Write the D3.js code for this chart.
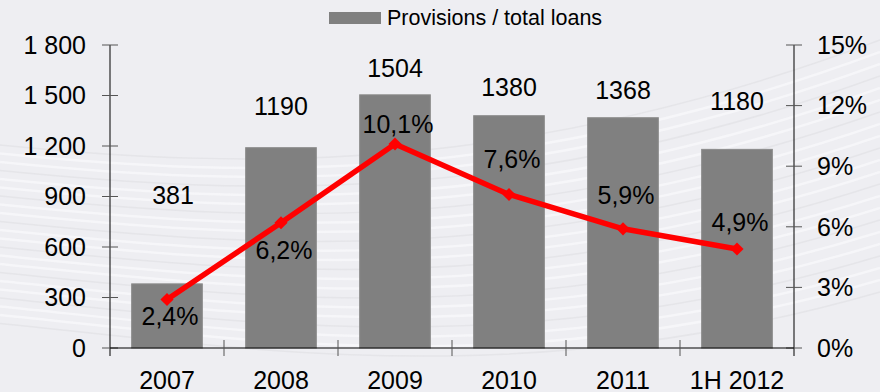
<!DOCTYPE html>
<html>
<head>
<meta charset="utf-8">
<script src="https://cdn.jsdelivr.net/npm/d3@7"></script>
<style>
  body { margin: 0; background: #eeeef2; }
  svg { display: block; font-family: "Liberation Sans", Arial, sans-serif; }
</style>
</head>
<body>
<svg id="chart" width="880" height="392"></svg>
<script>
// data
var categories = ["2007", "2008", "2009", "2010", "2011", "1H 2012"];
var provisions = [381, 1190, 1504, 1380, 1368, 1180];
var ratio = [2.4, 6.2, 10.1, 7.6, 5.9, 4.9];
var leftTicks = [0, 300, 600, 900, 1200, 1500, 1800];
var rightTicks = [0, 3, 6, 9, 12, 15];
var legendLabel = "Provisions / total loans";

// label placement (px from bar top / marker)
var barLabelOffset = [-89, -41, -27, -28, -27, -48];
var pctLabelOffset = [17, 27, -20, -35, -34, -27];

var width = 880, height = 392;
var plotLeft = 110, plotRight = 794, plotTop = 45, plotBottom = 348;

var svg = d3.select("#chart");

/// background swoosh ///
var bg = svg.append("g");
bg.append("rect").attr("width", width).attr("height", height).attr("fill", "#eeeef2");
for (var i = 0; i < 22; i++) {
  var y0 = 145 + i * 8.5, y1 = 40 + i * 12;
  bg.append("path")
    .attr("d", "M0," + y0 + " C250," + (y0 + 25) + " 520," + (y0 + 30 + i * 2) + " 880," + y1)
    .attr("fill", "none")
    .attr("stroke", i % 3 == 0 ? "#e2e2e6" : "#f8f8fa")
    .attr("stroke-width", i % 3 == 0 ? 1.5 : 2.5)
    .attr("opacity", 0.8);
}

var x = d3.scaleBand().domain(categories).range([plotLeft, plotRight]).paddingInner(0.38).paddingOuter(0.19);
var xb = d3.scaleBand().domain(categories).range([plotLeft, plotRight]);
var y = d3.scaleLinear().domain([0, 1800]).range([plotBottom, plotTop]);
var y2 = d3.scaleLinear().domain([0, 15]).range([plotBottom, plotTop]);
var fmt = d3.format(",");

/// bars ///
svg.append("g").selectAll("rect")
  .data(provisions)
  .enter().append("rect")
    .attr("x", function(d, i) { return x(categories[i]); })
    .attr("y", function(d) { return y(d); })
    .attr("width", x.bandwidth())
    .attr("height", function(d) { return plotBottom - y(d); })
    .attr("fill", "#808080")
    .attr("stroke", "#8c8c8c")
    .attr("stroke-width", 1);

/// axes ///
var axisG = svg.append("g");
// left
axisG.append("line").attr("x1", plotLeft).attr("x2", plotLeft).attr("y1", plotTop).attr("y2", plotBottom + 8).attr("stroke", "#000");
axisG.selectAll(".lt").data(leftTicks).enter().append("line")
  .attr("x1", plotLeft - 8).attr("x2", plotLeft + 8)
  .attr("y1", function(d) { return y(d); }).attr("y2", function(d) { return y(d); })
  .attr("stroke", "#555");
axisG.selectAll(".ll").data(leftTicks).enter().append("text")
  .attr("x", 86).attr("y", function(d) { return y(d); })
  .attr("dy", "0.35em").attr("text-anchor", "end")
  .attr("font-size", 25).attr("fill", "#000")
  .text(function(d) { return fmt(d).replace(/,/g, " "); });
// right
axisG.append("line").attr("x1", plotRight).attr("x2", plotRight).attr("y1", plotTop).attr("y2", plotBottom + 8).attr("stroke", "#000");
axisG.selectAll(".rt").data(rightTicks).enter().append("line")
  .attr("x1", plotRight - 8).attr("x2", plotRight + 8)
  .attr("y1", function(d) { return y2(d); }).attr("y2", function(d) { return y2(d); })
  .attr("stroke", "#555");
axisG.selectAll(".rl").data(rightTicks).enter().append("text")
  .attr("x", 817).attr("y", function(d) { return y2(d); })
  .attr("dy", "0.35em").attr("text-anchor", "start")
  .attr("font-size", 25).attr("fill", "#000")
  .text(function(d) { return d + "%"; });
// bottom
axisG.append("line").attr("x1", plotLeft).attr("x2", plotRight).attr("y1", plotBottom).attr("y2", plotBottom).attr("stroke", "#000");
axisG.selectAll(".bt").data(categories.slice(1)).enter().append("line")
  .attr("x1", function(d) { return xb(d); }).attr("x2", function(d) { return xb(d); })
  .attr("y1", plotBottom - 8).attr("y2", plotBottom + 8)
  .attr("stroke", "#555");
axisG.selectAll(".bl").data(categories).enter().append("text")
  .attr("x", function(d) { return xb(d) + xb.bandwidth() / 2; })
  .attr("y", 389)
  .attr("text-anchor", "middle")
  .attr("font-size", 25).attr("fill", "#000")
  .text(function(d) { return d; });

/// line ///
var line = d3.line()
  .x(function(d, i) { return xb(categories[i]) + xb.bandwidth() / 2; })
  .y(function(d) { return y2(d); });

svg.append("path")
  .datum(ratio)
  .attr("d", line)
  .attr("fill", "none")
  .attr("stroke", "#ff0000")
  .attr("stroke-width", 5.5)
  .attr("stroke-linejoin", "round");

svg.append("g").selectAll("path")
  .data(ratio)
  .enter().append("path")
    .attr("d", d3.symbol().type(d3.symbolDiamond2).size(110))
    .attr("transform", function(d, i) {
      return "translate(" + (xb(categories[i]) + xb.bandwidth() / 2) + "," + y2(d) + ")";
    })
    .attr("fill", "#ff0000");

/// labels ///
svg.append("g").selectAll("text")
  .data(provisions)
  .enter().append("text")
    .attr("x", function(d, i) { return xb(categories[i]) + xb.bandwidth() / 2 + (i == 0 ? 6 : 0); })
    .attr("y", function(d, i) { return y(d) + barLabelOffset[i]; })
    .attr("dy", "0.35em")
    .attr("text-anchor", "middle")
    .attr("font-size", 25).attr("fill", "#000")
    .text(function(d) { return d; });

svg.append("g").selectAll("text")
  .data(ratio)
  .enter().append("text")
    .attr("x", function(d, i) { return xb(categories[i]) + xb.bandwidth() / 2 + 3; })
    .attr("y", function(d, i) { return y2(d) + pctLabelOffset[i]; })
    .attr("dy", "0.35em")
    .attr("text-anchor", "middle")
    .attr("font-size", 25).attr("fill", "#000")
    .text(function(d) { return d.toFixed(1).replace(".", ",") + "%"; });

/// legend ///
var legend = svg.append("g");
legend.append("rect").attr("x", 329).attr("y", 12).attr("width", 52).attr("height", 12).attr("fill", "#808080");
legend.append("text").attr("x", 387).attr("y", 25)
  .attr("font-size", 21.5).attr("fill", "#000")
  .text(legendLabel);
</script>
</body>
</html>
